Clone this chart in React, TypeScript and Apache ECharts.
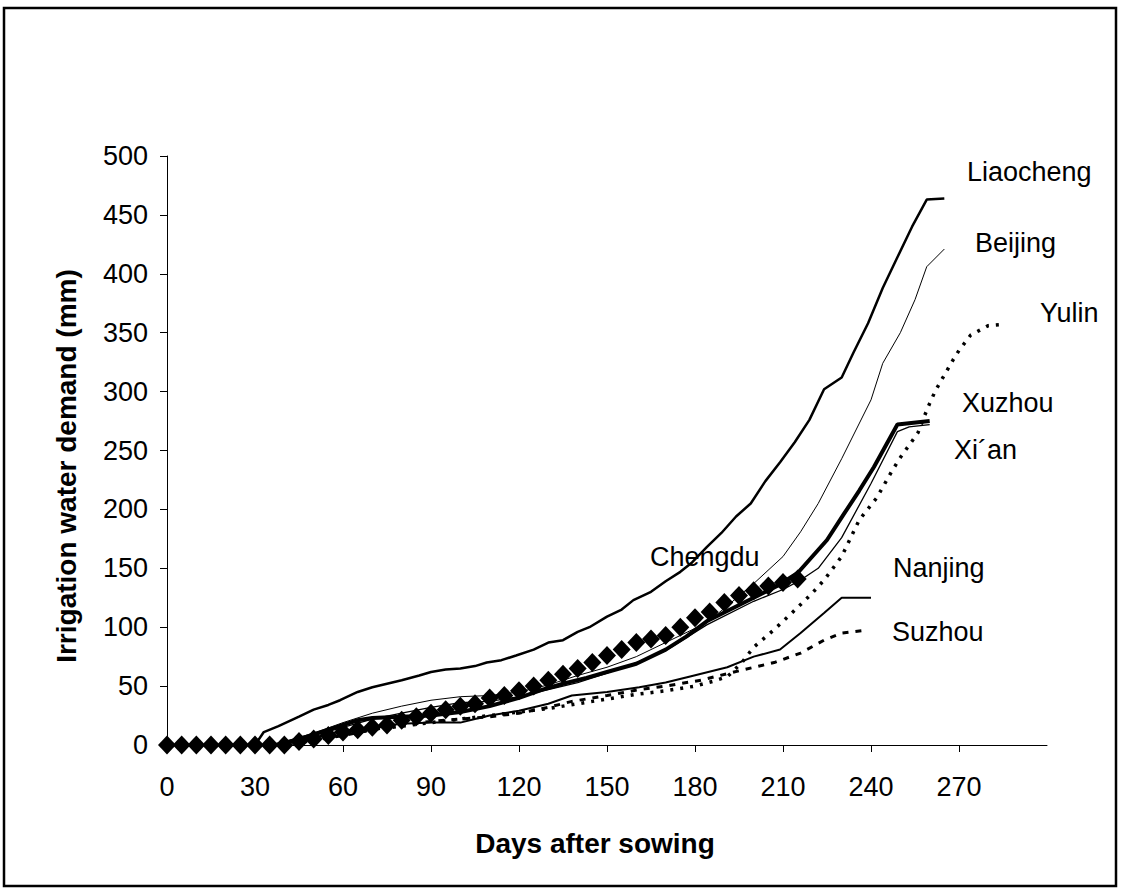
import React, { useEffect, useRef } from "react";
import * as echarts from "echarts";

// ---- data (day after sowing, irrigation water demand mm) ----
const liaocheng = [[30,0],[33,11],[38,16],[45,24],[50,30],[55,34],[59,38],[65,45],[70,49],[75,52],[80,55],[86,59],[90,62],[95,64],[100,65],[105,67],[109,70],[114,72],[119,76],[125,81],[130,87],[135,89],[140,96],[144,100],[150,109],[155,115],[159,123],[165,130],[170,139],[175,147],[179,155],[184,168],[189,180],[194,194],[199,205],[204,224],[209,240],[214,257],[219,276],[224,302],[230,312],[234,333],[239,358],[244,388],[249,414],[254,440],[259,463],[265,464]];
const beijing = [[35,0],[40,3],[50,10],[60,19],[70,27],[80,33],[90,38],[100,41],[110,42],[120,45],[130,51],[140,59],[150,66],[160,75],[170,87],[180,99],[185,106],[190,116],[200,137],[210,160],[216,181],[222,205],[230,243],[240,293],[244,324],[250,350],[255,378],[259,406],[265,421]];
const yulin = [[40,0],[50,4],[60,9],[70,13],[80,16],[90,19],[100,22],[110,25],[120,28],[130,31],[140,35],[150,39],[160,43],[170,46],[180,50],[186,54],[191,58],[196,70],[200,83],[207,98],[213,112],[220,129],[224,140],[230,160],[236,191],[242,210],[247,232],[250,244],[256,265],[258,278],[260,290],[262,301],[265,314],[268,327],[270,335],[274,348],[280,356],[285,357]];
const xuzhou = [[38,0],[45,5],[50,9],[55,13],[60,17],[65,21],[70,23],[80,24],[90,25],[100,28],[110,33],[120,40],[128,47],[135,52],[143,57],[150,62],[160,69],[170,81],[177,92],[184,105],[192,115],[200,125],[208,135],[215,146],[220,160],[225,174],[231,197],[236,216],[241,236],[245,254],[249,272],[260,275]];
const xian = [[38,0],[45,4],[50,8],[60,15],[70,22],[80,27],[90,32],[100,36],[110,37],[120,41],[130,47],[140,53],[150,61],[160,70],[170,80],[184,102],[200,122],[210,132],[216,140],[222,150],[230,176],[240,222],[249,266],[253,270],[260,272]];
const nanjing = [[35,0],[45,4],[55,9],[60,12],[70,15],[80,18],[90,19],[100,19],[105,22],[110,25],[120,29],[130,35],[138,42],[150,45],[161,49],[170,53],[178,58],[191,66],[200,75],[209,81],[216,95],[224,112],[230,125],[240,125]];
const suzhou = [[40,0],[50,4],[60,8],[70,13],[80,17],[90,20],[100,22],[110,24],[120,27],[130,32],[138,37],[150,42],[161,47],[170,50],[182,55],[195,63],[207,70],[216,78],[224,89],[230,95],[237,97]];
const chengduDays = [0,5,10,15,20,25,30,35,40,45,50,55,60,65,70,75,80,85,90,95,100,105,110,115,120,125,130,135,140,145,150,155,160,165,170,175,180,185,190,195,200,205,210,215];
const chengduValues = [0,0,0,0,0,0,0,0,0,3,5,8,11,13,15,17,21,24,27,30,33,35,40,42,46,50,55,60,65,70,76,81,87,90,93,100,108,113,121,127,131,135,138,141];

const xTicks = [0,30,60,90,120,150,180,210,240,270];
const yTicks = [0,50,100,150,200,250,300,350,400,450,500];

const labels = [
  { text: "Liaocheng", x: 967, y: 172 },
  { text: "Beijing", x: 975, y: 243 },
  { text: "Yulin", x: 1040, y: 313 },
  { text: "Xuzhou", x: 962, y: 403 },
  { text: "Xi\u00B4an", x: 954, y: 450 },
  { text: "Chengdu", x: 650, y: 557 },
  { text: "Nanjing", x: 893, y: 568 },
  { text: "Suzhou", x: 892, y: 632 },
];

const FONT = '"Liberation Sans", Arial, sans-serif';

export default function App() {
  const ref = useRef<HTMLDivElement>(null);
  useEffect(() => {
    if (!ref.current) return;
    const chart = echarts.init(ref.current, null, { renderer: "svg" });
    const line = (name: string, data: number[][], width: number, type: any = "solid") => ({
      name,
      type: "line",
      data,
      showSymbol: false,
      symbol: "none",
      smooth: false,
      silent: true,
      lineStyle: { color: "#000", width, type, cap: "butt" },
    });
    chart.setOption({
      animation: false,
      backgroundColor: "#fff",
      grid: { left: 167, top: 156, width: 880, height: 589, containLabel: false, outerBoundsMode: "none" },
      xAxis: {
        type: "value",
        min: 0,
        max: 300,
        interval: 30,
        axisLine: { lineStyle: { color: "#000", width: 1 } },
        axisTick: { show: true, length: 7, inside: false, customValues: xTicks, lineStyle: { color: "#000" } },
        axisLabel: { customValues: xTicks, margin: 28, color: "#000", fontSize: 27, fontFamily: FONT },
        splitLine: { show: false },
      },
      yAxis: {
        type: "value",
        min: 0,
        max: 500,
        interval: 50,
        axisLine: { show: true, lineStyle: { color: "#000", width: 1 } },
        axisTick: { show: true, length: 7, inside: false, customValues: yTicks, lineStyle: { color: "#000" } },
        axisLabel: { customValues: yTicks, margin: 19, color: "#000", fontSize: 27, fontFamily: FONT },
        splitLine: { show: false },
      },
      series: [
        line("Suzhou", suzhou, 3, [6, 7]),
        line("Nanjing", nanjing, 2),
        line("Yulin", yulin, 3.5, [3, 7]),
        line("Beijing", beijing, 1),
        line("Xi'an", xian, 1.3),
        line("Liaocheng", liaocheng, 2.5),
        {
          name: "Chengdu",
          type: "scatter",
          symbol: "diamond",
          symbolSize: [18, 19],
          silent: true,
          itemStyle: { color: "#000", opacity: 1 },
          data: chengduDays.map((d, i) => [d, chengduValues[i]]),
        },
        line("Xuzhou", xuzhou, 4),
      ],
      graphic: [
        {
          type: "rect",
          shape: { x: 4, y: 8, width: 1112, height: 878 },
          style: { fill: "none", stroke: "#000", lineWidth: 2.5 },
          silent: true,
        },
        {
          type: "text",
          x: 66,
          y: 466,
          rotation: Math.PI / 2,
          style: { text: "Irrigation water demand (mm)", font: `bold 28px ${FONT}`, fill: "#000", align: "center", verticalAlign: "middle" },
          silent: true,
        },
        {
          type: "text",
          x: 595,
          y: 843,
          style: { text: "Days after sowing", font: `bold 28px ${FONT}`, fill: "#000", align: "center", verticalAlign: "middle" },
          silent: true,
        },
        ...labels.map((l) => ({
          type: "text",
          x: l.x,
          y: l.y,
          style: { text: l.text, font: `27px ${FONT}`, fill: "#000", align: "left", verticalAlign: "middle" },
          silent: true,
        })),
      ],
    });
    return () => chart.dispose();
  }, []);
  return (
    <div
      ref={ref}
      style={{ position: "fixed", left: 0, top: 0, width: 1121, height: 891, background: "#fff" }}
    />
  );
}
